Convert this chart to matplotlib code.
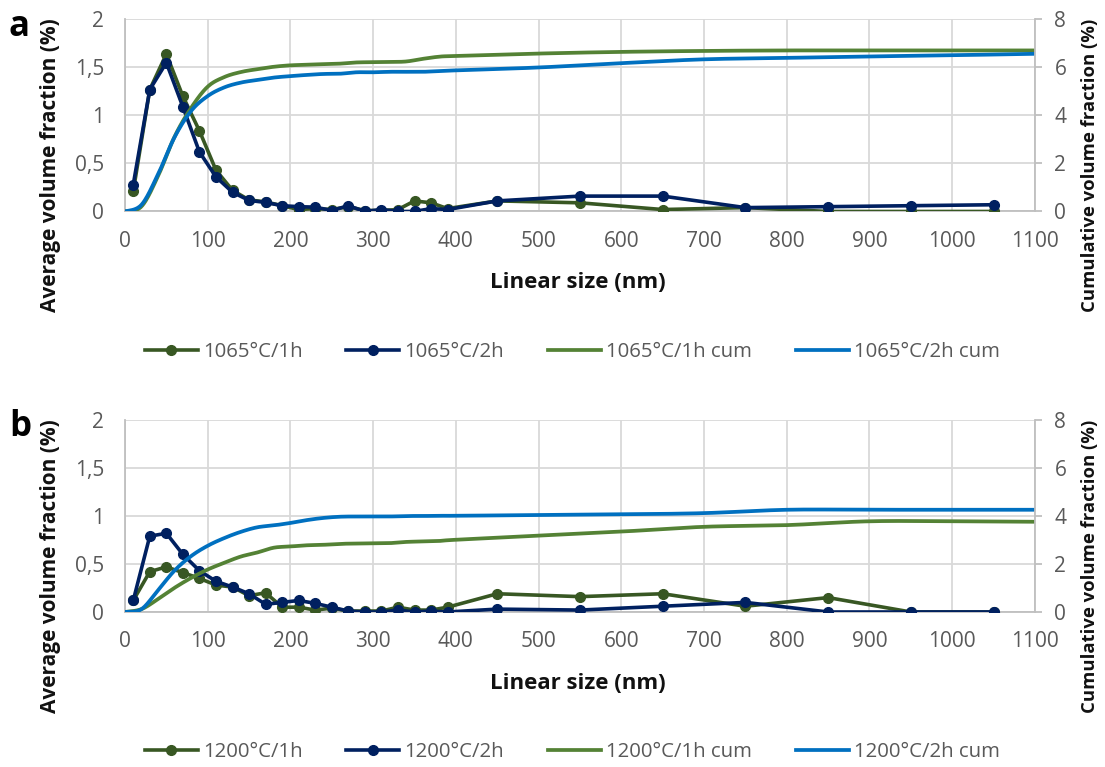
import numpy as np
import matplotlib
matplotlib.use("Agg")
import matplotlib.pyplot as plt
from matplotlib.ticker import FuncFormatter, MultipleLocator

plt.rcParams['font.family'] = ['Open Sans', 'DejaVu Sans']

# bin centres (nm) for the marker series, bin upper edges for the cumulative ones
size_pts = [10, 30, 50, 70, 90, 110, 130, 150, 170, 190, 210, 230, 250, 270, 290,
            310, 330, 350, 370, 390, 450, 550, 650, 750, 850, 950, 1050]
size_edges = [0, 20, 40, 60, 80, 100, 120, 140, 160, 180, 200, 220, 240, 260, 280,
              300, 320, 340, 360, 380, 400, 500, 600, 700, 800, 900, 1000, 1100]

# panel a
a_1h = [0.21, 1.27, 1.64, 1.20, 0.84, 0.43, 0.22, 0.12, 0.10, 0.06, 0.02, 0.03, 0.02, 0.05,
        0.01, 0.01, 0.02, 0.11, 0.09, 0.03, 0.11, 0.09, 0.02, 0.04, 0.00, 0.00, 0.00]
a_2h = [0.28, 1.27, 1.55, 1.09, 0.62, 0.36, 0.20, 0.115, 0.094, 0.06, 0.05, 0.045, 0.01, 0.06,
        0.00, 0.02, 0.00, 0.00, 0.03, 0.02, 0.11, 0.16, 0.16, 0.04, 0.05, 0.06, 0.07]
a_1h_cum = [0, 0.21, 1.48, 3.12, 4.32, 5.20, 5.60, 5.81, 5.93, 6.03, 6.09, 6.11, 6.14, 6.16,
            6.21, 6.22, 6.23, 6.25, 6.36, 6.45, 6.48, 6.58, 6.65, 6.69, 6.71, 6.71, 6.71, 6.71]
a_2h_cum = [0, 0.28, 1.55, 3.10, 4.19, 4.81, 5.17, 5.37, 5.48, 5.58, 5.64, 5.69, 5.73, 5.74,
            5.80, 5.80, 5.82, 5.82, 5.82, 5.85, 5.88, 6.00, 6.18, 6.34, 6.40, 6.46, 6.51, 6.57]

# panel b
b_1h = [0.12, 0.42, 0.47, 0.41, 0.35, 0.28, 0.26, 0.17, 0.20, 0.05, 0.05, 0.02, 0.04, 0.01,
        0.01, 0.01, 0.05, 0.02, 0.02, 0.05, 0.19, 0.16, 0.19, 0.06, 0.15, 0.00, 0.00]
b_2h = [0.12, 0.79, 0.82, 0.60, 0.43, 0.32, 0.26, 0.19, 0.08, 0.10, 0.12, 0.09, 0.05, 0.01,
        0.00, 0.00, 0.02, 0.00, 0.01, 0.00, 0.03, 0.02, 0.06, 0.10, 0.00, 0.00, 0.00]
b_1h_cum = [0, 0.12, 0.54, 1.01, 1.42, 1.77, 2.05, 2.31, 2.48, 2.68, 2.73, 2.78, 2.80, 2.84,
            2.85, 2.86, 2.87, 2.92, 2.94, 2.96, 3.01, 3.18, 3.35, 3.55, 3.62, 3.78, 3.78, 3.76]
b_2h_cum = [0, 0.12, 0.91, 1.73, 2.33, 2.76, 3.08, 3.34, 3.53, 3.61, 3.71, 3.83, 3.92, 3.97,
            3.98, 3.98, 3.98, 4.00, 4.00, 4.01, 4.01, 4.04, 4.07, 4.12, 4.26, 4.26, 4.26, 4.26]

panels = [
    ("a", "1065°C", a_1h, a_2h, a_1h_cum, a_2h_cum),
    ("b", "1200°C", b_1h, b_2h, b_1h_cum, b_2h_cum),
]

c_1h = "#385723"
c_2h = "#002060"
c_1h_cum = "#548235"
c_2h_cum = "#0070C0"
grid_c = "#D9D9D9"
spine_c = "#BFBFBF"
tick_c = "#595959"


def smooth(x, y, n=20):
    # Excel-like smoothed line: bezier through points, catmull-rom control points
    p = np.column_stack([x, y]).astype(float)
    p = np.vstack([p[0], p, p[-1]])
    out = []
    t = np.linspace(0, 1, n, endpoint=False)[:, None]
    for i in range(1, len(p) - 2):
        p0, p1, p2, p3 = p[i - 1], p[i], p[i + 1], p[i + 2]
        c1 = p1 + (p2 - p0) / 6
        c2 = p2 - (p3 - p1) / 6
        seg = ((1 - t) ** 3) * p1 + 3 * ((1 - t) ** 2) * t * c1 + 3 * (1 - t) * t ** 2 * c2 + t ** 3 * p2
        out.append(seg)
    out.append(p[-2][None, :])
    out = np.vstack(out)
    return out[:, 0], out[:, 1]


def comma(v, pos):
    s = f"{v:g}"
    return s.replace(".", ",")


fig = plt.figure(figsize=(11.05, 7.67), dpi=100)

boxes = [(0.1131, 0.7243, 0.8235, 0.2503), (0.1131, 0.2021, 0.8235, 0.2503)]
ylab_y = [0.785, 0.262]
xlab_y = [0.632, 0.1095]
leg_y = [0.541, 0.0196]
tag_y = [0.965, 0.443]

for k, (tag, temp, s1, s2, cum1, cum2) in enumerate(panels):
    ax = fig.add_axes(boxes[k])
    ax2 = ax.twinx()

    l1, = ax.plot(size_pts, s1, color=c_1h, lw=2.6, marker="o", ms=7, label=f"{temp}/1h", zorder=3)
    l2, = ax.plot(size_pts, s2, color=c_2h, lw=2.6, marker="o", ms=7, label=f"{temp}/2h", zorder=4)
    xs, ys = smooth(size_edges, cum1)
    l3, = ax2.plot(xs, ys, color=c_1h_cum, lw=2.7, label=f"{temp}/1h cum")
    xs, ys = smooth(size_edges, cum2)
    l4, = ax2.plot(xs, ys, color=c_2h_cum, lw=2.7, label=f"{temp}/2h cum")

    ax.set_xlim(0, 1100)
    ax.set_ylim(0, 2)
    ax2.set_ylim(0, 8)
    ax.xaxis.set_major_locator(MultipleLocator(100))
    ax.yaxis.set_major_locator(MultipleLocator(0.5))
    ax2.yaxis.set_major_locator(MultipleLocator(2))
    ax.yaxis.set_major_formatter(FuncFormatter(comma))
    ax.grid(True, color=grid_c, lw=1.3)
    ax.set_axisbelow(True)

    for a in (ax, ax2):
        a.spines["top"].set_visible(False)
        for sp in ("left", "right", "bottom"):
            a.spines[sp].set_color(spine_c)
            a.spines[sp].set_linewidth(1.3)
    ax.spines["right"].set_visible(False)
    ax2.spines["left"].set_visible(False)
    ax2.spines["bottom"].set_visible(False)

    ax.tick_params(axis="x", length=0, pad=14, labelsize=15, labelcolor=tick_c)
    ax.tick_params(axis="y", length=0, pad=15, labelsize=15, labelcolor=tick_c)
    ax2.tick_params(axis="y", length=5, width=1.3, color=spine_c, pad=9, labelsize=15, labelcolor=tick_c)

    fig.text(0.5226, xlab_y[k], "Linear size (nm)", ha="center", va="center",
             fontsize=16, fontweight="bold", color="#111111")
    fig.text(0.046, ylab_y[k], "Average volume fraction (%)", ha="center", va="center",
             rotation=90, fontsize=15, fontweight="bold", color="#111111")
    fig.text(0.986, ylab_y[k], "Cumulative volume fraction (%)", ha="center", va="center",
             rotation=90, fontsize=13.3, fontweight="bold", color="#111111")
    fig.text(0.008, tag_y[k], tag, ha="left", va="center", fontsize=25,
             fontweight="bold", color="black")

    fig.legend(handles=[l1, l2, l3, l4], loc="center", bbox_to_anchor=(0.518, leg_y[k]),
               ncol=4, frameon=False, fontsize=14.7, labelcolor=tick_c,
               handlelength=2.6, handletextpad=0.25, columnspacing=2.15)

fig.savefig("out.png", dpi=100)
